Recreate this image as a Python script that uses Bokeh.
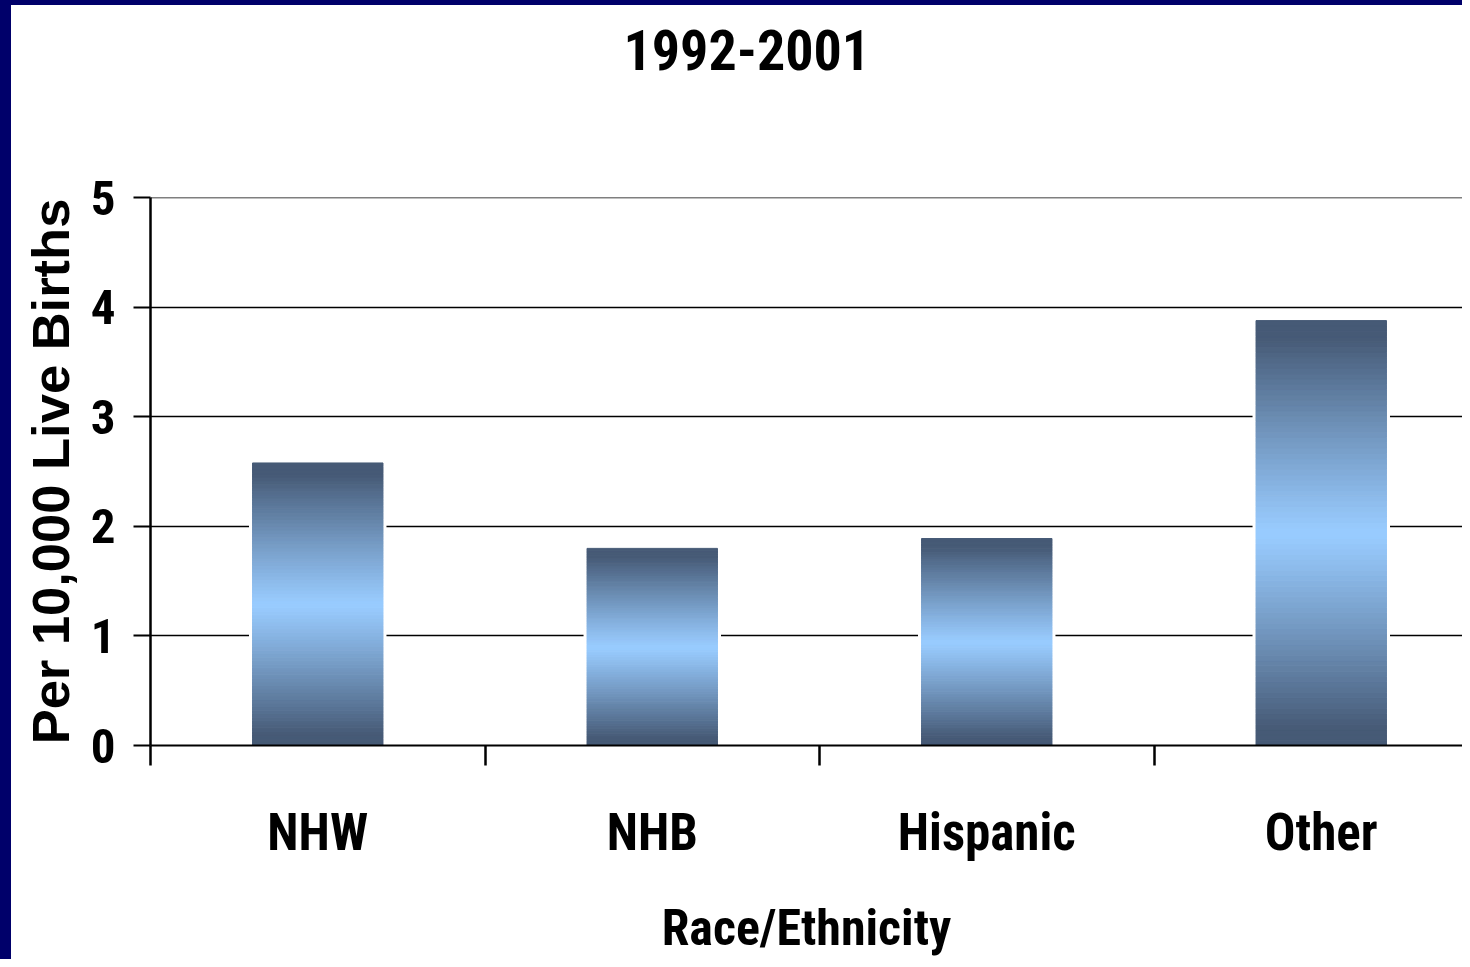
from bokeh.plotting import figure
from bokeh.models import Range1d, FixedTicker, ColumnDataSource, Title, InlineStyleSheet
from bokeh.embed import file_html
from bokeh.resources import INLINE

# ---- data ----
categories = ["NHW", "NHB", "Hispanic", "Other"]
rates = [2.58, 1.80, 1.89, 3.88]
y_ticks = [0, 1, 2, 3, 4, 5]
title_text = "1992-2001"
x_title = "Race/Ethnicity"
y_title = "Per 10,000 Live Births"

NARROW = "Roboto Condensed"
WIDE = "Liberation Sans"

W, H = 1462, 959
LEFT, TOP, BOTTOM = 150, 197, 748
CAT_PX = 334.5
p = figure(width=W, height=H, output_backend="svg", toolbar_location=None,
           x_range=Range1d(0, (W - LEFT) / CAT_PX), y_range=Range1d(0, 5.004),
           min_border_left=LEFT, min_border_right=0, min_border_top=TOP,
           min_border_bottom=H - BOTTOM)
p.background_fill_color = "white"
p.border_fill_color = None
p.outline_line_color = None
p.stylesheets = [InlineStyleSheet(css=":host { background-color: white; box-shadow: inset 11px 5px 0 0 #00006a; }")]

# spacer (closest to frame) then the real title above it
p.add_layout(Title(text=" ", text_font=NARROW, text_font_size="95px"), "above")
p.add_layout(Title(text=title_text, align="left", offset=744 - LEFT - 121,
                   text_font=NARROW, text_font_size="56px", text_font_style="bold",
                   text_color="black"), "above")

# gradient bars built from stacked slices of each value
centers = [i + 0.5 for i in range(len(categories))]
bw = 0.39
p.vbar(x=centers, top=rates, bottom=0, width=bw, fill_color="white",
       line_color="white", line_width=7)

N = 80
dark = (70, 90, 118)
light = (153, 204, 255)
xs_l, xs_r, bots, tops, cols = [], [], [], [], []
for c, v in zip(centers, rates):
    for k in range(N):
        tpos = (k + 0.5) / N
        d = abs(tpos - 0.5) * 2
        g = min(1.0, d / 0.92) ** 1.1
        col = tuple(int(round(light[j] + (dark[j] - light[j]) * g)) for j in range(3))
        xs_l.append(c - bw / 2)
        xs_r.append(c + bw / 2)
        bots.append(v * k / N)
        tops.append(v * (k + 1) / N)
        cols.append("#%02x%02x%02x" % col)
src = ColumnDataSource(dict(left=xs_l, right=xs_r, bottom=bots, top=tops, color=cols))
p.quad(left="left", right="right", bottom="bottom", top="top", source=src,
       fill_color="color", line_color="color", line_width=1)

# x axis
xa = p.xaxis[0]
xa.ticker = FixedTicker(ticks=centers, minor_ticks=list(range(len(categories) + 1)))
xa.major_label_overrides = {c: n for c, n in zip(centers, categories)}
xa.major_tick_line_color = None
xa.major_tick_out = 20
xa.major_tick_in = 0
xa.minor_tick_out = 20
xa.minor_tick_in = 0
xa.minor_tick_line_color = "black"
xa.minor_tick_line_width = 2.5
xa.axis_line_color = "black"
xa.axis_line_width = 2
xa.major_label_text_font = NARROW
xa.major_label_text_font_style = "bold"
xa.major_label_text_font_size = "51px"
xa.major_label_text_color = "black"
xa.major_label_standoff = 37
xa.axis_label = x_title
xa.axis_label_text_font = NARROW
xa.axis_label_text_font_style = "bold"
xa.axis_label_text_font_size = "50px"
xa.axis_label_text_color = "black"
xa.axis_label_standoff = 34

# y axis
ya = p.yaxis[0]
ya.ticker = FixedTicker(ticks=y_ticks)
ya.minor_tick_line_color = None
ya.major_tick_out = 17
ya.major_tick_in = 0
ya.major_tick_line_width = 2
ya.axis_line_width = 2.5
ya.axis_line_color = "black"
ya.major_label_text_font = NARROW
ya.major_label_text_font_style = "bold"
ya.major_label_text_font_size = "49px"
ya.major_label_text_color = "black"
ya.major_label_standoff = 18
ya.axis_label = y_title
ya.axis_label_text_font = WIDE
ya.axis_label_text_font_style = "bold"
ya.axis_label_text_font_size = "52.5px"
ya.axis_label_text_color = "black"
ya.axis_label_standoff = 8

p.xgrid.grid_line_color = None
p.ygrid.ticker = FixedTicker(ticks=y_ticks)
p.ygrid.grid_line_color = "black"
p.ygrid.grid_line_width = 1.6

open("out.html", "w").write(file_html(p, INLINE))
